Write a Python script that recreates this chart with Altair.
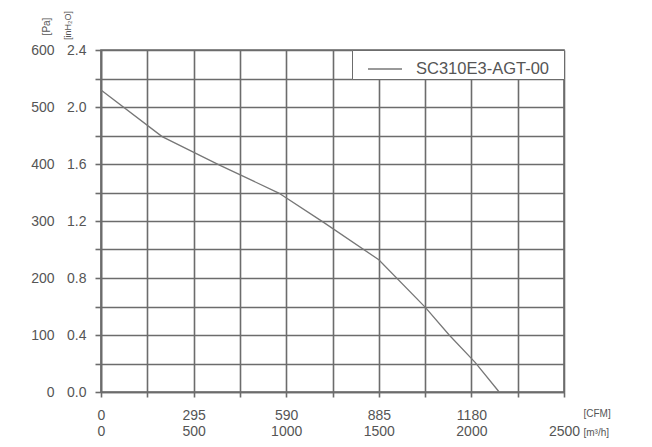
import altair as alt
import pandas as pd

# ---- data ----
flow_m3h = [0, 330, 640, 960, 1200, 1500, 1750, 1880, 2020, 2150]
pressure_pa = [530, 448, 398, 349, 298, 232, 149, 100, 52, 0]
series_name = ["SC310E3-AGT-00"] * len(flow_m3h)

x_grid_vals = [0, 250, 500, 750, 1000, 1250, 1500, 1750, 2000, 2250, 2500]
y_grid_vals = [0, 50, 100, 150, 200, 250, 300, 350, 400, 450, 500, 550, 600]
m3h_label_vals = [0, 500, 1000, 1500, 2000, 2500]
cfm_label_pos = [0, 500, 1000, 1500, 2000]
cfm_labels = ["0", "295", "590", "885", "1180"]
pa_label_vals = [0, 100, 200, 300, 400, 500, 600]
inh2o_labels = ["0.0", "0.4", "0.8", "1.2", "1.6", "2.0", "2.4"]

df = pd.DataFrame({"q": flow_m3h, "p": pressure_pa, "s": series_name})

FONT = "Liberation Sans"
TXT = "#555555"
GRID = "#6c6c6c"


def lookup_expr(keys, labels):
    expr = "''"
    for k, l in reversed(list(zip(keys, labels))):
        expr = f"datum.value == {k} ? '{l}' : ({expr})"
    return expr


m3h_expr = lookup_expr(m3h_label_vals, [str(v) for v in m3h_label_vals])
cfm_expr = lookup_expr(cfm_label_pos, cfm_labels)
pa_expr = lookup_expr(pa_label_vals, [str(v) for v in pa_label_vals])
inh2o_expr = lookup_expr(pa_label_vals, inh2o_labels)

xscale = alt.Scale(domain=[0, 2500], nice=False, zero=True)
yscale = alt.Scale(domain=[0, 600], nice=False, zero=True)

m3h_axis = alt.Axis(
    orient="bottom", values=x_grid_vals, grid=True, gridColor=GRID, gridWidth=1.6,
    domainColor=GRID, domainWidth=1.6, ticks=True, tickSize=5, tickColor=GRID, tickWidth=1.6,
    labelExpr=m3h_expr, labelFont=FONT, labelFontSize=14, labelColor=TXT,
    labelPadding=27, labelOverlap=False, labelFlush=False,
    title="[m³/h]", titleFont=FONT, titleFontSize=10, titleFontWeight="normal",
    titleColor=TXT, titleX=482, titleY=40, titleAlign="left", titleBaseline="middle",
)
cfm_axis = alt.Axis(
    orient="bottom", values=cfm_label_pos, grid=False, domain=False, ticks=False,
    tickSize=0, labelExpr=cfm_expr, labelFont=FONT, labelFontSize=14, labelColor=TXT,
    labelPadding=16, labelOverlap=False, labelFlush=False,
    title="[CFM]", titleFont=FONT, titleFontSize=10, titleFontWeight="normal",
    titleColor=TXT, titleX=482, titleY=21, titleAlign="left", titleBaseline="middle",
)
pa_axis = alt.Axis(
    orient="left", values=y_grid_vals, grid=True, gridColor=GRID, gridWidth=1.6,
    domainColor=GRID, domainWidth=1.6, ticks=True, tickSize=6, tickColor=GRID, tickWidth=1.6,
    labelExpr=pa_expr, labelFont=FONT, labelFontSize=14, labelColor=TXT,
    labelPadding=41, labelOverlap=False, labelFlush=False,
    title="[Pa]", titleFont=FONT, titleFontSize=10, titleFontWeight="normal",
    titleColor=TXT, titleAngle=270, titleX=-55, titleY=-24,
    titleAlign="center", titleBaseline="middle",
)
inh2o_axis = alt.Axis(
    orient="left", values=pa_label_vals, grid=False, domain=False, ticks=False,
    tickSize=0, labelExpr=inh2o_expr, labelFont=FONT, labelFontSize=14, labelColor=TXT,
    labelPadding=15, labelOverlap=False, labelFlush=False,
    title="[inH₂O]", titleFont=FONT, titleFontSize=9, titleFontWeight="normal",
    titleColor=TXT, titleAngle=270, titleX=-34, titleY=-25,
    titleAlign="center", titleBaseline="middle",
)

curve = alt.Chart(df).mark_line(strokeWidth=1.3).encode(
    x=alt.X("q:Q", scale=xscale, axis=m3h_axis),
    y=alt.Y("p:Q", scale=yscale, axis=pa_axis),
    color=alt.Color(
        "s:N",
        scale=alt.Scale(range=["#777777"]),
        legend=alt.Legend(
            title=None, orient="none", legendX=251, legendY=0,
            symbolType="stroke", symbolSize=1156, symbolStrokeWidth=1.3,
            labelFont=FONT, labelFontSize=16.5, labelColor=TXT, labelOffset=13,
            labelLimit=300,
            labelExpr="datum.label + '   \u200b'",
            padding=1, symbolOffset=14, strokeColor=GRID, fillColor="white",
        ),
    ),
)

ghost = alt.Chart(df).mark_line(strokeOpacity=0).encode(
    x=alt.X("q:Q", scale=xscale, axis=cfm_axis),
    y=alt.Y("p:Q", scale=yscale, axis=inh2o_axis),
)

chart = (
    alt.layer(curve, ghost)
    .resolve_axis(x="independent", y="independent")
    .properties(
        width=463, height=342,
        padding={"left": 93, "top": 42, "right": 70, "bottom": 47},
        autosize=alt.AutoSizeParams(type="none"),
        background="white",
    )
    .configure_view(stroke=GRID, strokeWidth=1.6)
)

chart.save("out.html", embed_options={"renderer": "svg", "actions": False})
